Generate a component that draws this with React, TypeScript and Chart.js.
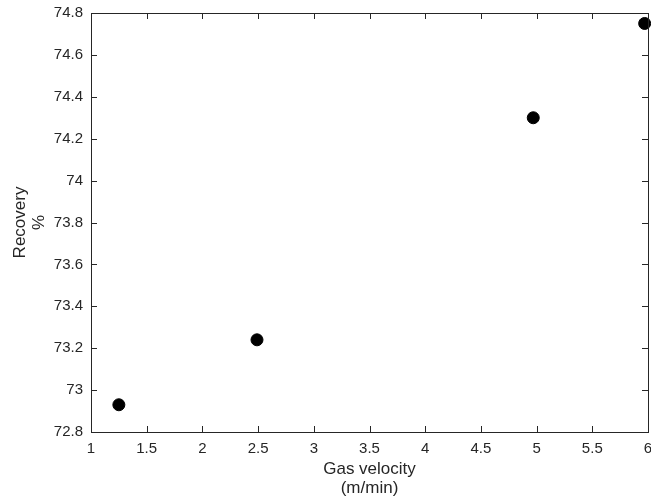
import React, { useEffect, useRef } from "react";
import { Chart, registerables } from "chart.js";

Chart.register(...registerables);

const gasVelocity = [1.25, 2.49, 4.97, 5.97];
const recovery = [72.93, 73.24, 74.3, 74.75];
const xTitle = ["Gas velocity", "(m/min)"];
const yTitle = ["Recovery", "%"];

const AXIS_COLOR = "#262626";
const FONT = "'Liberation Sans', Arial, Helvetica, sans-serif";

const fmt = (v: any) => String(Math.round(Number(v) * 10) / 10);

const framePlugin = {
  id: "frameTicks",
  afterDraw(chart: any) {
    const { ctx, chartArea } = chart;
    const { left, right, top, bottom } = chartArea;
    const xs = chart.scales.x;
    const ys = chart.scales.y;
    const len = 6;
    ctx.save();
    ctx.strokeStyle = AXIS_COLOR;
    ctx.lineWidth = 1;
    ctx.beginPath();
    xs.ticks.forEach((t: any) => {
      const px = Math.round(xs.getPixelForValue(t.value)) + 0.5;
      ctx.moveTo(px, bottom);
      ctx.lineTo(px, bottom - len);
      ctx.moveTo(px, top);
      ctx.lineTo(px, top + len);
    });
    ys.ticks.forEach((t: any) => {
      const py = Math.round(ys.getPixelForValue(t.value)) + 0.5;
      ctx.moveTo(left, py);
      ctx.lineTo(left + len, py);
      ctx.moveTo(right, py);
      ctx.lineTo(right - len, py);
    });
    ctx.stroke();
    ctx.strokeRect(Math.round(left) + 0.5, Math.round(top) + 0.5, Math.round(right - left), Math.round(bottom - top));
    ctx.restore();
  },
};

export default function App() {
  const ref = useRef<HTMLCanvasElement | null>(null);
  useEffect(() => {
    if (!ref.current) return;
    const chart = new Chart(ref.current, {
      type: "scatter",
      data: {
        datasets: [
          {
            data: gasVelocity.map((x, i) => ({ x, y: recovery[i] })),
            backgroundColor: "#000000",
            borderColor: "#000000",
            pointRadius: 6,
            pointHoverRadius: 6,
            clip: false,
          },
        ],
      },
      options: {
        animation: false,
        responsive: false,
        devicePixelRatio: 1,
        layout: { autoPadding: false, padding: { top: 13, right: 3, left: 0, bottom: 0 } },
        plugins: { legend: { display: false }, tooltip: { enabled: false } },
        scales: {
          x: {
            type: "linear",
            min: 1,
            max: 6,
            afterFit: (s: any) => {
              s.height = 72;
              s.paddingLeft = 0;
              s.paddingRight = 0;
            },
            grid: { display: false, drawTicks: false },
            border: { display: false },
            ticks: {
              stepSize: 0.5,
              color: AXIS_COLOR,
              padding: 8,
              maxRotation: 0,
              font: { family: FONT, size: 15 },
              callback: fmt,
            },
            title: {
              display: true,
              text: xTitle,
              color: AXIS_COLOR,
              font: { family: FONT, size: 17, lineHeight: 19 / 17 },
              padding: { top: 0, bottom: 6.5 },
            },
          },
          y: {
            type: "linear",
            min: 72.8,
            max: 74.8,
            afterFit: (s: any) => {
              s.width = 91;
              s.paddingTop = 0;
              s.paddingBottom = 0;
            },
            grid: { display: false, drawTicks: false },
            border: { display: false },
            ticks: {
              stepSize: 0.2,
              color: AXIS_COLOR,
              padding: 8,
              font: { family: FONT, size: 15 },
              callback: fmt,
            },
            title: {
              display: true,
              text: yTitle,
              color: AXIS_COLOR,
              font: { family: FONT, size: 17, lineHeight: 19 / 17 },
              padding: { top: 10.5, bottom: 0 },
            },
          },
        },
      },
      plugins: [framePlugin],
    });
    return () => chart.destroy();
  }, []);
  return (
    <div style={{ position: "fixed", left: 0, top: 0, width: 651, height: 504, background: "#fff" }}>
      <canvas ref={ref} width={651} height={504} style={{ display: "block", width: 651, height: 504 }} />
    </div>
  );
}
